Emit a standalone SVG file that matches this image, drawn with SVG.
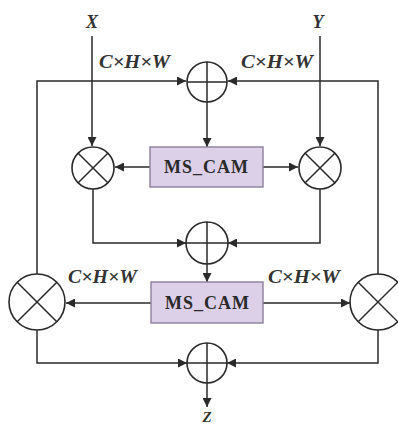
<svg xmlns="http://www.w3.org/2000/svg" width="398" height="426" viewBox="0 0 398 426">
<style>
.ln{fill:none;stroke:#2a2a2a;stroke-width:1.5}
.op{fill:#fff;stroke:#2a2a2a;stroke-width:1.6}
.box{fill:#dcd0e8;stroke:#8c7f9c;stroke-width:1.4}
.lbl{font-family:"Liberation Serif",serif;font-style:italic;font-weight:bold;font-size:19px;fill:#333}
.io{font-family:"Liberation Serif",serif;font-style:italic;font-weight:bold;font-size:18px;fill:#333;text-anchor:middle}
.bt{font-family:"Liberation Serif",serif;font-weight:bold;font-size:18px;fill:#2a2a2a;text-anchor:middle}
</style>
<defs>
<marker id="ar" viewBox="0 0 10 10" refX="10" refY="5" markerWidth="9" markerHeight="9" markerUnits="userSpaceOnUse" orient="auto">
<path d="M0,0 L10,5 L0,10 Z" fill="#2a2a2a"/>
</marker>
</defs>
<rect width="398" height="426" fill="#fff"/>
<g id="connectors">
<path class="ln" d="M92,36 L92,146" marker-end="url(#ar)"/>
<path class="ln" d="M320,36 L320,146" marker-end="url(#ar)"/>
<path class="ln" d="M37,274 L37,81 L186,81" marker-end="url(#ar)"/>
<path class="ln" d="M378,274 L378,81 L228,81" marker-end="url(#ar)"/>
<path class="ln" d="M207,102 L207,147" marker-end="url(#ar)"/>
<path class="ln" d="M150,167 L115,167" marker-end="url(#ar)"/>
<path class="ln" d="M263,167 L298,167" marker-end="url(#ar)"/>
<path class="ln" d="M93,189 L93,243 L186,243" marker-end="url(#ar)"/>
<path class="ln" d="M320,189 L320,243 L228,243" marker-end="url(#ar)"/>
<path class="ln" d="M207,264 L207,282" marker-end="url(#ar)"/>
<path class="ln" d="M151,303 L66,303" marker-end="url(#ar)"/>
<path class="ln" d="M263,303 L350,303" marker-end="url(#ar)"/>
<path class="ln" d="M37,330 L37,363 L187,363" marker-end="url(#ar)"/>
<path class="ln" d="M378,330 L378,363 L227,363" marker-end="url(#ar)"/>
<path class="ln" d="M207,383 L207,407" marker-end="url(#ar)"/>
</g>
<g id="labels">
<text class="io" x="92" y="28">X</text>
<text class="io" x="318" y="28">Y</text>
<text class="io" x="207" y="422" style="font-size:15px">Z</text>
<text class="lbl" x="99" y="68" textLength="71" lengthAdjust="spacingAndGlyphs">C×H×W</text>
<text class="lbl" x="241" y="68" textLength="72" lengthAdjust="spacingAndGlyphs">C×H×W</text>
<text class="lbl" x="68" y="283" textLength="69" lengthAdjust="spacingAndGlyphs">C×H×W</text>
<text class="lbl" x="268" y="283" textLength="72" lengthAdjust="spacingAndGlyphs">C×H×W</text>
</g>
<g id="add1">
<circle class="op" cx="207" cy="82" r="20"/>
<path class="ln" d="M187,82 H227 M207,62 V102"/>
</g>
<g id="add2">
<circle class="op" cx="207" cy="243" r="21"/>
<path class="ln" d="M186,243 H228 M207,222 V264"/>
</g>
<g id="add3">
<circle class="op" cx="207" cy="363" r="20"/>
<path class="ln" d="M187,363 H227 M207,343 V383"/>
</g>
<g id="mul1">
<circle class="op" cx="93" cy="168" r="21"/>
<path class="ln" d="M78.2,153.2 L107.8,182.8 M107.8,153.2 L78.2,182.8"/>
</g>
<g id="mul2">
<circle class="op" cx="320" cy="168" r="21"/>
<path class="ln" d="M305.2,153.2 L334.8,182.8 M334.8,153.2 L305.2,182.8"/>
</g>
<g id="mul3">
<circle class="op" cx="37" cy="302" r="28"/>
<path class="ln" d="M17.2,282.2 L56.8,321.8 M56.8,282.2 L17.2,321.8"/>
</g>
<g id="mul4">
<circle class="op" cx="378" cy="302" r="28"/>
<path class="ln" d="M358.2,282.2 L397.8,321.8 M397.8,282.2 L358.2,321.8"/>
</g>
<g id="mscam1">
<rect class="box" x="150" y="147" width="113" height="40"/>
<text class="bt" x="206" y="173" textLength="84">MS_CAM</text>
</g>
<g id="mscam2">
<rect class="box" x="151" y="282" width="112" height="41"/>
<text class="bt" x="207" y="309" textLength="84">MS_CAM</text>
</g>
</svg>
